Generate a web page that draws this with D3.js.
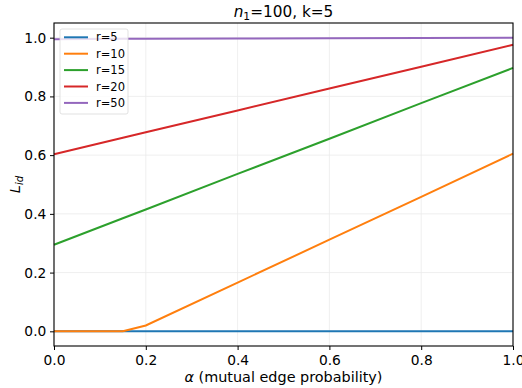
<!DOCTYPE html>
<html>
<head>
<meta charset="utf-8">
<script src="https://cdn.jsdelivr.net/npm/d3@7"></script>
<style>
  body { margin: 0; background: #fff; }
  svg { font-family: "DejaVu Sans", sans-serif; }
</style>
</head>
<body>
<div id="chart"></div>
<script>
// values
let alphas = [0, 0.15, 0.2, 0.4, 0.6, 0.8, 1.0];
let r5 = [0, 0, 0, 0, 0, 0, 0];
let r10 = [0, 0, 0.02, 0.166, 0.312, 0.458, 0.605];
let r15 = [0.295, 0.385, 0.415, 0.536, 0.656, 0.777, 0.897];
let r20 = [0.603, 0.659, 0.678, 0.752, 0.827, 0.901, 0.976];
let r50 = [0.995, 0.996, 0.996, 0.997, 0.998, 0.999, 1.0];
let seriesNames = ["r=5", "r=10", "r=15", "r=20", "r=50"];
let colors = ["#1f77b4", "#ff7f0e", "#2ca02c", "#d62728", "#9467bd"];
let xTicks = [0, 0.2, 0.4, 0.6, 0.8, 1.0];
let yTicks = [0, 0.2, 0.4, 0.6, 0.8, 1.0];

let allSeries = [r5, r10, r15, r20, r50];

let W = 522, H = 388;
let margin = { top: 23, right: 9, bottom: 42, left: 54 };
let width = W - margin.left - margin.right;
let height = H - margin.top - margin.bottom;

let svg = d3.select("#chart").append("svg")
  .attr("width", W)
  .attr("height", H);

let g = svg.append("g")
  .attr("transform", "translate(" + margin.left + "," + margin.top + ")");

let x = d3.scaleLinear().domain([0, 1]).range([0, width]);
let y = d3.scaleLinear().domain([-0.05, 1.05]).range([height, 0]);

// grid
g.selectAll(".xgrid").data(xTicks).enter().append("line")
  .attr("x1", d => x(d)).attr("x2", d => x(d))
  .attr("y1", 0).attr("y2", height)
  .attr("stroke", "#ebebeb").attr("stroke-width", 0.8);
g.selectAll(".ygrid").data(yTicks).enter().append("line")
  .attr("x1", 0).attr("x2", width)
  .attr("y1", d => y(d)).attr("y2", d => y(d))
  .attr("stroke", "#ebebeb").attr("stroke-width", 0.8);

// lines
let line = d3.line()
  .x((d, i) => x(alphas[i]))
  .y(d => y(d));

g.append("g")
  .selectAll("path").data(allSeries).enter().append("path")
  .attr("d", d => line(d))
  .attr("fill", "none")
  .attr("stroke", (d, i) => colors[i])
  .attr("stroke-width", 2);

// axes
let xAxis = g.append("g")
  .attr("transform", "translate(0," + height + ")")
  .call(d3.axisBottom(x).tickValues(xTicks).tickFormat(d3.format(".1f")).tickSizeOuter(0).tickSize(4));
let yAxis = g.append("g")
  .call(d3.axisLeft(y).tickValues(yTicks).tickFormat(d3.format(".1f")).tickSizeOuter(0).tickSize(4));

[xAxis, yAxis].forEach(a => {
  a.select(".domain").remove();
  a.selectAll("text").attr("font-size", 13.8).attr("fill", "#000").attr("font-family", "DejaVu Sans");
  a.selectAll("line").attr("stroke", "#000").attr("stroke-width", 1);
});
xAxis.selectAll("text").attr("dy", "0.9em");
yAxis.selectAll("text").attr("dx", "-0.05em");

// frame
g.append("rect")
  .attr("width", width).attr("height", height)
  .attr("fill", "none").attr("stroke", "#000").attr("stroke-width", 1.1);

// title
let title = svg.append("text")
  .attr("x", margin.left + width / 2).attr("y", 17)
  .attr("text-anchor", "middle").attr("font-size", 15.3);
title.append("tspan").attr("font-style", "italic").text("n");
title.append("tspan").attr("font-size", 10.7).attr("dy", 3).text("1");
title.append("tspan").attr("dy", -3).text("=100, k=5");

// axis labels
svg.append("text")
  .attr("x", margin.left + width / 2).attr("y", 382)
  .attr("text-anchor", "middle").attr("font-size", 14.4)
  .html('<tspan font-style="italic">α</tspan> (mutual edge probability)');

let ylab = svg.append("text")
  .attr("transform", "translate(20," + (margin.top + height / 2) + ") rotate(-90)")
  .attr("text-anchor", "middle").attr("font-size", 14.4);
ylab.append("tspan").attr("font-style", "italic").text("L");
ylab.append("tspan").attr("font-style", "italic").attr("font-size", 10.1).attr("dy", 3).text("id");

// legend
let legend = g.append("g").attr("transform", "translate(6,6)");
legend.append("rect")
  .attr("width", 68).attr("height", 85).attr("rx", 2)
  .attr("fill", "#fff").attr("fill-opacity", 0.8)
  .attr("stroke", "#d9d9d9").attr("stroke-width", 0.8);
let items = legend.selectAll(".item").data(seriesNames).enter().append("g")
  .attr("transform", (d, i) => "translate(0," + (8.3 + i * 16.4) + ")");
items.append("line")
  .attr("x1", 4).attr("x2", 28)
  .attr("stroke", (d, i) => colors[i]).attr("stroke-width", 2);
items.append("text")
  .attr("x", 36).attr("dy", "0.35em")
  .attr("font-size", 11.5).text(d => d);
</script>
</body>
</html>
